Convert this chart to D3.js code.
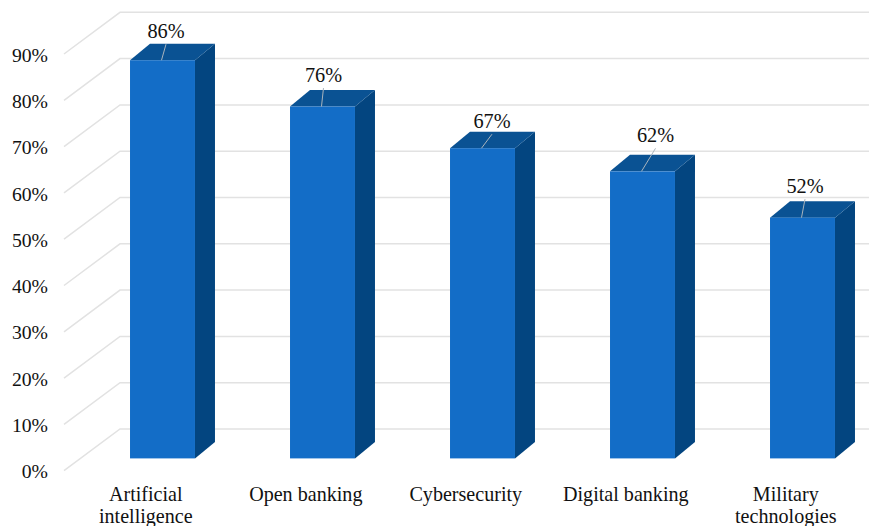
<!DOCTYPE html>
<html>
<head>
<meta charset="utf-8">
<script src="https://cdn.jsdelivr.net/npm/d3@7"></script>
<style>
  html, body { margin: 0; padding: 0; background: #fff; overflow: hidden; }
  text { font-family: "Liberation Serif", serif; fill: #111; }
</style>
</head>
<body>
<div id="chart"></div>
<script>
var categories = [["Artificial", "intelligence"], ["Open banking"], ["Cybersecurity"], ["Digital banking"], ["Military", "technologies"]];
var values = [86, 76, 67, 62, 52];
var yTicks = [0, 10, 20, 30, 40, 50, 60, 70, 80, 90];

var width = 869, height = 526;

// depth of the 3d floor, and the depth of a bar inside it
var wallDx = 56, wallDy = 41.7;
var barDx = 20, barDy = 16.5;
var barInsetY = 12.3;

// scale is for the front plane, back wall is shifted up by wallDy
var y = d3.scaleLinear().domain([0, 90]).range([470.7, 54]);
var x = d3.scaleBand().domain(d3.range(categories.length)).range([82.5, 882.5])
  .paddingInner(0.594).paddingOuter(0.297);

// label nudges from the bar's top front centre
var labelDx = [3.5, 1, 9.5, 13, 2.5];
var labelUp = [22, 24.5, 20, 29, 24.5];

var svg = d3.select("#chart").append("svg")
  .attr("width", width)
  .attr("height", height)
  .style("display", "block");

//grid: slanted side wall then back wall
var grid = svg.append("g").attr("fill", "none").attr("stroke", "#e2e2e2").attr("stroke-width", 1.5);
grid.selectAll("path").data(yTicks).enter().append("path")
  .attr("d", function(d) {
    return "M64," + y(d) + "L" + (64 + wallDx) + "," + (y(d) - wallDy) + "H" + width;
  });

//y axis labels
var axis = svg.append("g").attr("transform", "translate(48,0.8)")
  .call(d3.axisLeft(y).tickValues(yTicks).tickSize(0).tickPadding(0).tickFormat(function(d) { return d + "%"; }));
axis.select(".domain").remove();
axis.selectAll("text").attr("font-size", 19.7).style("font-family", '"Liberation Serif", serif').attr("fill", "#111");

//bars
var bar = svg.selectAll("g.bar").data(values).enter().append("g").attr("class", "bar")
  .attr("transform", function(d, i) { return "translate(" + x(i) + ",0)"; });
var bw = x.bandwidth();
var base = y(0) - barInsetY;
var barTop = function(d) { return y(d) - barInsetY; };

bar.append("path").attr("fill", "#034580")
  .attr("d", function(d) {
    return "M" + bw + "," + barTop(d) + "l" + barDx + "," + (-barDy) + "V" + (base - barDy) + "L" + bw + "," + base + "z";
  });
bar.append("path").attr("fill", "#0a5293")
  .attr("d", function(d) {
    return "M0," + barTop(d) + "l" + barDx + "," + (-barDy) + "h" + bw + "l" + (-barDx) + "," + barDy + "z";
  });
bar.append("rect").attr("fill", "#136dc7")
  .attr("y", barTop)
  .attr("width", bw)
  .attr("height", function(d) { return base - barTop(d); });

//leader lines
bar.append("line").attr("stroke", "#a9b4bd").attr("stroke-width", 1)
  .attr("x1", bw / 2 - 1)
  .attr("y1", barTop)
  .attr("x2", function(d, i) { return bw / 2 + labelDx[i]; })
  .attr("y2", function(d, i) { return barTop(d) - labelUp[i] + 6; });

//value labels
bar.append("text")
  .attr("x", function(d, i) { return bw / 2 + labelDx[i]; })
  .attr("y", function(d, i) { return barTop(d) - labelUp[i]; })
  .attr("text-anchor", "middle")
  .attr("font-size", 20.3)
  .text(function(d) { return d + "%"; });

//category labels
var cat = svg.selectAll("text.cat").data(categories).enter().append("text")
  .attr("class", "cat")
  .attr("text-anchor", "middle")
  .attr("font-size", 20.1);
cat.selectAll("tspan").data(function(d, i) {
    return d.map(function(t, k) { return { t: t, k: k, i: i }; });
  }).enter().append("tspan")
  .attr("x", function(d) { return x(d.i) + bw / 2 - 16.7; })
  .attr("y", function(d) { return 501.3 + d.k * 22; })
  .text(function(d) { return d.t; });
</script>
</body>
</html>
